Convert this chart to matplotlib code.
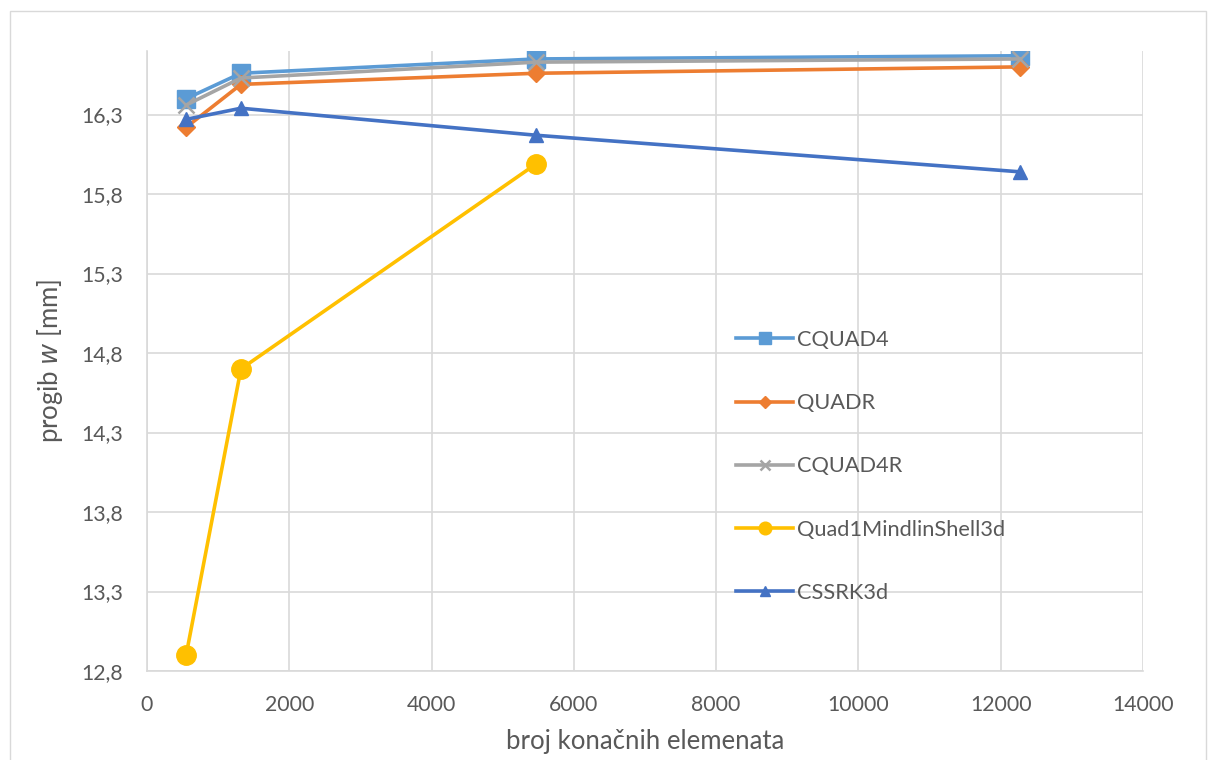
import matplotlib.pyplot as plt
from matplotlib.patches import Rectangle
from matplotlib.ticker import FuncFormatter

plt.rcParams['font.family'] = ['Lato', 'DejaVu Sans']

# broj elemenata
n_el = [550, 1320, 5470, 12270]

cquad4 = [16.40, 16.56, 16.65, 16.67]
quadr = [16.22, 16.49, 16.56, 16.60]
cquad4r = [16.36, 16.53, 16.63, 16.65]
mindlin = [12.90, 14.70, 15.99]
cssrk = [16.27, 16.34, 16.17, 15.94]

txt = '#595959'
grid_c = '#D9D9D9'

fig = plt.figure(figsize=(12.08, 7.6), dpi=100)
ax = fig.add_axes([0.1217, 0.1171, 0.8245, 0.8158])

# chart area border
fig.patches.append(Rectangle((0.008, -0.01), 0.99, 0.995, transform=fig.transFigure,
                             fill=False, edgecolor='#D9D9D9', lw=1.0))

lw = 2.6
ax.plot(n_el, cquad4, color='#5B9BD5', lw=lw, marker='s', ms=13, label='CQUAD4', zorder=3)
ax.plot(n_el, quadr, color='#ED7D31', lw=lw, marker='D', ms=9, label='QUADR', zorder=3)
ax.plot(n_el, cquad4r, color='#A5A5A5', lw=lw, marker='x', ms=11, mew=1.8, label='CQUAD4R', zorder=3)
ax.plot(n_el[:3], mindlin, color='#FFC000', lw=lw, marker='o', ms=14, label='Quad1MindlinShell3d', zorder=3)
ax.plot(n_el, cssrk, color='#4472C4', lw=lw, marker='^', ms=10, label='CSSRK3d', zorder=3)

ax.set_xlim(0, 14000)
ax.set_ylim(12.8, 16.7)
ax.set_xticks(range(0, 14001, 2000))
ax.set_yticks([12.8, 13.3, 13.8, 14.3, 14.8, 15.3, 15.8, 16.3])
ax.yaxis.set_major_formatter(FuncFormatter(lambda v, p: ('%.1f' % v).replace('.', ',')))

ax.grid(True, color=grid_c, lw=1.2)
ax.set_axisbelow(True)
for s in ['top', 'right']:
    ax.spines[s].set_visible(False)
for s in ['left', 'bottom']:
    ax.spines[s].set_color(grid_c)
    ax.spines[s].set_linewidth(1.2)
ax.tick_params(length=0, labelsize=15.3, colors=txt, pad=17)

ax.set_xlabel('broj konačnih elemenata', fontsize=18.5, color=txt, labelpad=10)
ax.set_ylabel('progib $\\it{w}$ [mm]', fontsize=18.5, color=txt, labelpad=12)

leg = ax.legend(loc='upper left', bbox_to_anchor=(0.583, 0.564), frameon=False,
                fontsize=15.7, labelspacing=1.98, handlelength=2.6, handletextpad=0.2,
                markerscale=0.65, borderaxespad=0)
for t in leg.get_texts():
    t.set_color(txt)

fig.savefig('out.png', dpi=100)
